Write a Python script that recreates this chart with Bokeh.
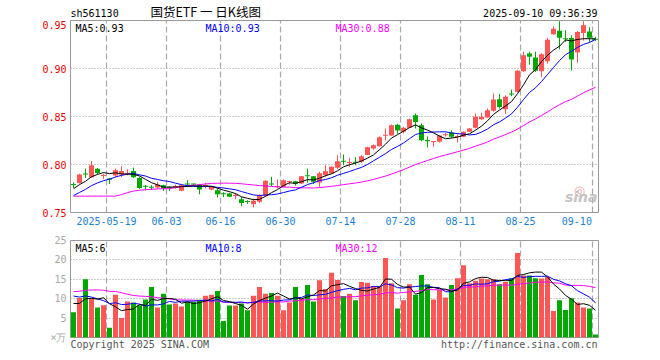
import numpy as np
import pandas as pd
from bokeh.plotting import figure
from bokeh.layouts import column
from bokeh.models import FixedTicker, Label, Range1d, ColumnDataSource, NumeralTickFormatter
from bokeh.embed import file_html
from bokeh.resources import INLINE

# ---------------- data ----------------
trade_days = [d.strftime("%Y-%m-%d") for d in pd.bdate_range("2025-05-09", "2025-09-10")
              if d.strftime("%Y-%m-%d") != "2025-06-02"]

opens = [0.7790, 0.7807, 0.7900, 0.7868, 0.7957, 0.7880, 0.7846, 0.7886, 0.7896, 0.7904,
         0.7932, 0.7860, 0.7770, 0.7762, 0.7760, 0.7785, 0.7760, 0.7764, 0.7726, 0.7795,
         0.7795, 0.7792, 0.7772, 0.7740, 0.7733, 0.7693, 0.7698, 0.7672, 0.7639, 0.7612,
         0.7587, 0.7611, 0.7674, 0.7795, 0.7765, 0.7767, 0.7818, 0.7826, 0.7802, 0.7881,
         0.7878, 0.7812, 0.7889, 0.7906, 0.7965, 0.8031, 0.8015, 0.8020, 0.8028, 0.8100,
         0.8167, 0.8190, 0.8300, 0.8303, 0.8414, 0.8340, 0.8382, 0.8514, 0.8410, 0.8246,
         0.8234, 0.8236, 0.8304, 0.8333, 0.8286, 0.8288, 0.8340, 0.8382, 0.8472, 0.8490,
         0.8559, 0.8680, 0.8576, 0.8732, 0.8757, 0.8972, 0.9156, 0.9115, 0.8972, 0.9075,
         0.9358, 0.9392, 0.9308, 0.9318, 0.9166, 0.9370, 0.9385, 0.9305]
highs = [0.7814, 0.7904, 0.7957, 0.8036, 0.7964, 0.7904, 0.7860, 0.7957, 0.7982, 0.7950,
         0.7968, 0.7868, 0.7786, 0.7785, 0.7820, 0.7790, 0.7768, 0.7790, 0.7792, 0.7837,
         0.7800, 0.7796, 0.7809, 0.7775, 0.7750, 0.7710, 0.7705, 0.7705, 0.7663, 0.7628,
         0.7646, 0.7690, 0.7837, 0.7872, 0.7844, 0.7844, 0.7830, 0.7830, 0.7880, 0.7958,
         0.7880, 0.7924, 0.7993, 0.7980, 0.8097, 0.8104, 0.8069, 0.8076, 0.8097, 0.8185,
         0.8208, 0.8292, 0.8375, 0.8417, 0.8424, 0.8392, 0.8476, 0.8531, 0.8427, 0.8292,
         0.8243, 0.8306, 0.8330, 0.8358, 0.8313, 0.8345, 0.8378, 0.8531, 0.8540, 0.8583,
         0.8740, 0.8733, 0.8722, 0.8781, 0.8983, 0.9174, 0.9174, 0.9174, 0.9160, 0.9318,
         0.9440, 0.9492, 0.9398, 0.9347, 0.9389, 0.9492, 0.9430, 0.9330]
lows = [0.7754, 0.7800, 0.7860, 0.7860, 0.7896, 0.7850, 0.7796, 0.7868, 0.7868, 0.7886,
        0.7860, 0.7746, 0.7732, 0.7735, 0.7750, 0.7725, 0.7725, 0.7750, 0.7722, 0.7770,
        0.7785, 0.7690, 0.7750, 0.7730, 0.7656, 0.7660, 0.7660, 0.7639, 0.7566, 0.7590,
        0.7552, 0.7600, 0.7663, 0.7775, 0.7750, 0.7760, 0.7790, 0.7780, 0.7795, 0.7812,
        0.7796, 0.7767, 0.7872, 0.7900, 0.7951, 0.7993, 0.7976, 0.7993, 0.8017, 0.8097,
        0.8153, 0.8186, 0.8250, 0.8299, 0.8320, 0.8323, 0.8380, 0.8375, 0.8243, 0.8177,
        0.8184, 0.8230, 0.8290, 0.8278, 0.8229, 0.8285, 0.8338, 0.8375, 0.8465, 0.8488,
        0.8549, 0.8583, 0.8528, 0.8712, 0.8750, 0.8965, 0.9040, 0.8965, 0.8912, 0.9050,
        0.9350, 0.9200, 0.9277, 0.8980, 0.9060, 0.9290, 0.9277, 0.9285]
closes = [0.7786, 0.7896, 0.7896, 0.7993, 0.7911, 0.7884, 0.7842, 0.7939, 0.7932, 0.7908,
          0.7868, 0.7754, 0.7767, 0.7758, 0.7792, 0.7750, 0.7757, 0.7767, 0.7785, 0.7792,
          0.7792, 0.7740, 0.7775, 0.7767, 0.7691, 0.7690, 0.7663, 0.7675, 0.7600, 0.7609,
          0.7622, 0.7680, 0.7830, 0.7792, 0.7768, 0.7837, 0.7821, 0.7799, 0.7878, 0.7878,
          0.7820, 0.7910, 0.7930, 0.7976, 0.8035, 0.8028, 0.8018, 0.8017, 0.8087, 0.8180,
          0.8201, 0.8285, 0.8303, 0.8410, 0.8355, 0.8382, 0.8472, 0.8444, 0.8253, 0.8243,
          0.8237, 0.8303, 0.8307, 0.8288, 0.8289, 0.8340, 0.8375, 0.8497, 0.8497, 0.8566,
          0.8677, 0.8600, 0.8705, 0.8729, 0.8976, 0.9139, 0.9122, 0.8976, 0.9149, 0.9300,
          0.9414, 0.9320, 0.9305, 0.9095, 0.9380, 0.9451, 0.9320, 0.9300]
volumes = [6.5, 10.2, 15.0, 10.0, 7.75, 8.3, 2.5, 11.0, 5.0, 9.25,
           9.0, 8.3, 9.8, 13.0, 7.75, 11.25, 8.5, 8.75, 8.0, 9.3,
           9.2, 9.7, 10.75, 11.0, 12.0, 4.25, 8.25, 8.25, 8.75, 7.0,
           10.75, 13.0, 11.25, 11.5, 10.75, 7.0, 9.0, 13.0, 10.0, 13.5,
           9.25, 14.75, 12.5, 16.7, 14.8, 10.7, 11.25, 9.6, 14.3, 14.1,
           13.2, 13.3, 20.5, 14.0, 7.5, 9.6, 13.75, 11.0, 16.1, 13.75,
           9.8, 12.25, 10.3, 13.5, 15.25, 18.6, 14.0, 14.6, 15.2, 15.0,
           15.0, 13.75, 14.3, 15.25, 21.8, 16.0, 16.0, 15.25, 15.2, 15.6,
           6.8, 9.6, 7.1, 10.1, 9.0, 7.75, 7.5, 0.8]

# closes / volumes of the 29 sessions before the first visible one (feed the moving averages)
prior_closes = [0.789, 0.790, 0.797, 0.791, 0.788, 0.785, 0.793,
                0.745, 0.730, 0.738,
                0.752, 0.758, 0.762, 0.768, 0.770, 0.772,
                0.748, 0.750, 0.752, 0.755,
                0.757, 0.758, 0.760, 0.763, 0.765,
                0.768, 0.772, 0.776, 0.779]
prior_volumes = [7.0, 7.5, 7.8, 7.2,
                 11.0, 11.0, 12.0, 14.0, 22.0, 18.0, 13.0, 12.0,
                 16.0, 15.0, 14.0, 15.0, 15.0,
                 10.0, 10.0, 10.0,
                 13.0, 12.0, 13.0, 12.5, 12.7,
                 10.0, 9.0, 9.5, 8.75]

tick_dates = ["2025-05-19", "2025-06-03", "2025-06-16", "2025-06-30", "2025-07-14",
              "2025-07-28", "2025-08-11", "2025-08-25", "2025-09-10"]
tick_labels = ["2025-05-19", "06-03", "06-16", "06-30", "07-14", "07-28", "08-11", "08-25", "09-10"]
price_ticks = [0.75, 0.80, 0.85, 0.90, 0.95]
price_grid = [0.80, 0.85, 0.90]
vol_ticks = [0, 5, 10, 15, 20, 25]
vol_tick_labels = ["×万", "5", "10", "15", "20", "25"]
vol_grid = [5, 10, 15, 20]

price_ma_labels = ["MA5:0.93", "MA10:0.93", "MA30:0.88"]
vol_ma_labels = ["MA5:6", "MA10:8", "MA30:12"]
symbol = "sh561130"
chart_title = "国货ETF 一 日K线图"
timestamp = "2025-09-10 09:36:39"
copyright_text = "Copyright 2025 SINA.COM"
url_text = "http://finance.sina.com.cn"

# ---------------- derived ----------------
FONT = "DejaVu Sans Mono"
CHAR_W = 6.02          # px per char of 10px DejaVu Sans Mono
SLOT = 6.0             # px per trading day
RED = "#ff5555"
GREEN = "#00a800"
W = 652
LEFT, RIGHT = 70, 54
HEAD_H = 20
FRAME_H = 192
n = len(closes)
o = np.array(opens); c = np.array(closes); h = np.array(highs); l = np.array(lows)
v = np.array(volumes)
up = c >= o
colors = np.where(up, RED, GREEN)
bb = np.minimum(o, c)
bt = np.maximum(np.maximum(o, c), bb + 0.0011)


def sma(prior, vals, w):
    allv = np.array(list(prior) + list(vals), dtype=float)
    k = len(prior)
    return np.array([allv[k + i - w + 1:k + i + 1].mean() for i in range(len(vals))])


src = ColumnDataSource(dict(
    x=np.arange(n) + 0.5, o=o, c=c, h=h, l=l, bt=bt, bb=bb, color=colors, vol=v,
    ma5=sma(prior_closes, closes, 5), ma10=sma(prior_closes, closes, 10), ma30=sma(prior_closes, closes, 30),
    vma5=sma(prior_volumes, volumes, 5), vma10=sma(prior_volumes, volumes, 10), vma30=sma(prior_volumes, volumes, 30),
))

grid_pos = [trade_days.index(d) for d in tick_dates]
half = lambda s: len(s) * CHAR_W / 2 / SLOT
# date labels are centred on their grid line but kept inside the panel
label_pos = [round(min(g, n - half(t) - 1.1), 3) for g, t in zip(grid_pos, tick_labels)]
xr = Range1d(0, n)


def style_axis(ax, color, standoff=4):
    ax.axis_line_color = None
    ax.major_tick_line_color = None
    ax.minor_tick_line_color = None
    ax.major_tick_out = 0
    ax.major_tick_in = 0
    ax.major_label_text_font = FONT
    ax.major_label_text_font_size = "10px"
    ax.major_label_text_color = color
    ax.major_label_standoff = standoff


def lab(fig, text, x, y, xo=0, yo=0, color="black", size="10px", align="left",
        baseline="top", font=FONT, style="normal"):
    fig.add_layout(Label(x=x, y=y, x_offset=xo, y_offset=yo, text=text, text_color=color,
                         text_font_size=size, text_align=align, text_baseline=baseline,
                         text_font=font, text_font_style=style))


# ---------------- header strip (page pixels across, y measured upward) ----------------
hd = figure(width=W, height=HEAD_H, x_range=Range1d(LEFT, W - RIGHT), y_range=Range1d(0, HEAD_H),
            output_backend="svg", toolbar_location=None,
            min_border_left=LEFT, min_border_right=RIGHT, min_border_top=0, min_border_bottom=0)
hd.outline_line_color = None
hd.xaxis.visible = False
hd.yaxis.visible = False
hd.xgrid.visible = False
hd.ygrid.visible = False
lab(hd, symbol, 70, HEAD_H - 13.3, baseline="middle")
lab(hd, chart_title, 150, HEAD_H - 10.9, size="12.5px", baseline="middle", font="Noto Sans CJK SC")
lab(hd, timestamp, 597, HEAD_H - 12.8, align="right", baseline="middle")

# ---------------- price panel ----------------
p = figure(width=W, height=FRAME_H + 20, x_range=xr, y_range=Range1d(price_ticks[0], price_ticks[-1]),
           output_backend="svg", toolbar_location=None,
           min_border_left=LEFT, min_border_right=RIGHT, min_border_top=0, min_border_bottom=20)
p.outline_line_color = "#999999"
p.xaxis.ticker = FixedTicker(ticks=label_pos)
p.xaxis.major_label_overrides = {pos: t for pos, t in zip(label_pos, tick_labels)}
style_axis(p.xaxis[0], "#1a7fd0", 4)
p.yaxis.ticker = FixedTicker(ticks=price_ticks)
p.yaxis.formatter = NumeralTickFormatter(format="0.00")
style_axis(p.yaxis[0], "#f00000", 4)
p.xgrid.ticker = FixedTicker(ticks=grid_pos)
p.xgrid.grid_line_color = "#a8a8a8"
p.xgrid.grid_line_dash = "6 3"
p.xgrid.grid_line_width = 1.2
p.ygrid.ticker = FixedTicker(ticks=price_grid)
p.ygrid.grid_line_color = "#999999"
p.ygrid.grid_line_dash = "1 2"

p.segment(x0="x", y0="l", x1="x", y1="h", line_color="color", line_width=1, source=src)
p.vbar(x="x", width=0.83, top="bt", bottom="bb", fill_color="color", line_color=None, source=src)
p.line("x", "ma30", line_color="#ff00ff", line_width=1, source=src)
p.line("x", "ma10", line_color="#0000ff", line_width=1, source=src)
p.line("x", "ma5", line_color="black", line_width=1, source=src)

lab(p, price_ma_labels[0], 0, price_ticks[-1], 5, -2, "black")
lab(p, price_ma_labels[1], 0, price_ticks[-1], 135, -2, "#0000ff")
lab(p, price_ma_labels[2], 0, price_ticks[-1], 265, -2, "#ff00ff")
lab(p, "◎", n, price_ticks[0], -19, 22, "#f2a8a8", size="13px", align="center", baseline="middle",
    font="DejaVu Sans")
lab(p, "sina", n, price_ticks[0], -1, 8, "#c4c4c4", size="14px", align="right", baseline="bottom",
    font="DejaVu Sans", style="bold italic")

# ---------------- volume panel ----------------
q = figure(width=W, height=120, x_range=xr, y_range=Range1d(0, vol_ticks[-1]),
           output_backend="svg", toolbar_location=None,
           min_border_left=LEFT, min_border_right=RIGHT, min_border_top=8, min_border_bottom=12)
q.outline_line_color = "#999999"
foot_pos = [round(half(copyright_text), 3), round(n - half(url_text) - 0.17, 3)]
q.xaxis.ticker = FixedTicker(ticks=foot_pos)
q.xaxis.major_label_overrides = {foot_pos[0]: copyright_text, foot_pos[1]: url_text}
style_axis(q.xaxis[0], "#555555", 1)
q.yaxis.ticker = FixedTicker(ticks=vol_ticks)
q.yaxis.major_label_overrides = {t: s for t, s in zip(vol_ticks, vol_tick_labels)}
style_axis(q.yaxis[0], "#a8a8a8", 4)
q.xgrid.ticker = FixedTicker(ticks=grid_pos)
q.xgrid.grid_line_color = "#a8a8a8"
q.xgrid.grid_line_dash = "6 3"
q.xgrid.grid_line_width = 1.2
q.ygrid.ticker = FixedTicker(ticks=vol_grid)
q.ygrid.grid_line_color = "#999999"
q.ygrid.grid_line_dash = "1 2"

q.vbar(x="x", width=0.83, top="vol", bottom=0, fill_color="color", line_color=None, source=src)
q.line("x", "vma30", line_color="#ff00ff", line_width=1, source=src)
q.line("x", "vma10", line_color="#0000ff", line_width=1, source=src)
q.line("x", "vma5", line_color="black", line_width=1, source=src)

lab(q, vol_ma_labels[0], 0, vol_ticks[-1], 5, -2, "black")
lab(q, vol_ma_labels[1], 0, vol_ticks[-1], 135, -2, "#0000ff")
lab(q, vol_ma_labels[2], 0, vol_ticks[-1], 265, -2, "#ff00ff")

layout = column(hd, p, q, spacing=0)
open("out.html", "w").write(file_html(layout, INLINE))
